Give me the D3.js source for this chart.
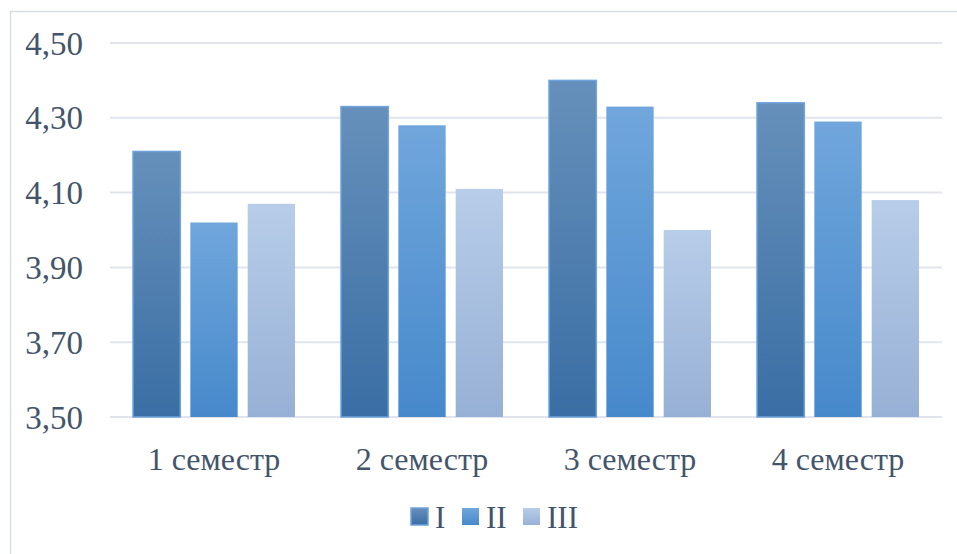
<!DOCTYPE html>
<html>
<head>
<meta charset="utf-8">
<script src="https://cdn.jsdelivr.net/npm/d3@7"></script>
<style>
  html, body { margin: 0; padding: 0; background: #fff; }
  svg { display: block; font-family: "Liberation Serif", serif; }
</style>
</head>
<body>
<div id="chart"></div>
<script>
// categories and series
const semesters = ["1 семестр", "2 семестр", "3 семестр", "4 семестр"];
const seriesNames = ["I", "II", "III"];
const valuesI = [4.21, 4.33, 4.40, 4.34];
const valuesII = [4.02, 4.28, 4.33, 4.29];
const valuesIII = [4.07, 4.11, 4.00, 4.08];
const yTicks = [3.5, 3.7, 3.9, 4.1, 4.3, 4.5];

const W = 957, H = 554;
const M = { left: 110, right: 15, top: 43, bottom: 137 };
const FONT = "Liberation Serif, serif";
const TEXT = "#44546a";

const series = [valuesI, valuesII, valuesIII];

// gradient stops per series (top -> bottom)
const grads = [
    ["#6690bb", "#3a6ea4"],
    ["#70a6dc", "#4689cb"],
    ["#b7cde9", "#97b0d5"],
];

const svg = d3.select("#chart").append("svg")
    .attr("width", W).attr("height", H)
    .style("font-family", FONT);

const defs = svg.append("defs");
grads.forEach((g, i) => {
    const lg = defs.append("linearGradient")
        .attr("id", "g" + i)
        .attr("x1", 0).attr("y1", 0).attr("x2", 0).attr("y2", 1);
    lg.append("stop").attr("offset", "0%").attr("stop-color", g[0]);
    lg.append("stop").attr("offset", "100%").attr("stop-color", g[1]);
});

// chart frame
svg.append("rect")
    .attr("x", 10.5).attr("y", 11.5)
    .attr("width", W + 10).attr("height", H + 10)
    .attr("fill", "none")
    .attr("stroke", "#d9dee5")
    .attr("stroke-width", 1.5);

const x = d3.scaleBand()
    .domain(semesters)
    .range([M.left, W - M.right]);

const inner = d3.scaleBand()
    .domain(seriesNames)
    .range([23, x.bandwidth() - 23])
    .paddingInner(0.175);

const y = d3.scaleLinear()
    .domain([3.5, 4.5])
    .range([H - M.bottom, M.top]);

// gridlines
svg.append("g")
    .selectAll("line")
    .data(yTicks)
    .join("line")
    .attr("x1", M.left).attr("x2", W - M.right)
    .attr("y1", d => y(d)).attr("y2", d => y(d))
    .attr("stroke", "#e1e5eb")
    .attr("stroke-width", 2);

// y labels
svg.append("g")
    .selectAll("text")
    .data(yTicks)
    .join("text")
    .attr("x", 83)
    .attr("y", d => y(d))
    .attr("dy", "0.35em")
    .attr("text-anchor", "end")
    .style("font-family", FONT)
    .style("font-size", "33px")
    .attr("fill", TEXT)
    .text(d => d3.format(".2f")(d).replace(".", ","));

// bars
const groups = svg.append("g")
    .selectAll("g")
    .data(semesters)
    .join("g")
    .attr("transform", d => `translate(${x(d)},0)`);

groups.selectAll("rect")
    .data((d, j) => seriesNames.map((s, i) => ({ s, i, v: series[i][j] })))
    .join("rect")
    .attr("x", d => inner(d.s))
    .attr("y", d => y(d.v))
    .attr("width", inner.bandwidth())
    .attr("height", d => y(3.5) - y(d.v))
    .attr("fill", d => `url(#g${d.i})`)
    .attr("stroke", d => d.i === 0 ? "#6ea3dd" : "none")
    .attr("stroke-width", 1.5);

// category labels
svg.append("g")
    .selectAll("text")
    .data(semesters)
    .join("text")
    .attr("x", d => x(d) + x.bandwidth() / 2)
    .attr("y", y(3.5) + 53)
    .attr("text-anchor", "middle")
    .style("font-family", FONT)
    .style("font-size", "32px")
    .attr("fill", TEXT)
    .text(d => d);

// legend
const legendX = [411, 462, 523];
const legend = svg.append("g")
    .selectAll("g")
    .data(seriesNames)
    .join("g")
    .attr("transform", (d, i) => `translate(${legendX[i]},508)`);

legend.append("rect")
    .attr("width", 17).attr("height", 17)
    .attr("fill", (d, i) => `url(#g${i})`)
    .attr("stroke", (d, i) => i === 0 ? "#6ea3dd" : "none")
    .attr("stroke-width", 1.5);

legend.append("text")
    .attr("x", 24)
    .attr("y", 9)
    .attr("dy", "0.35em")
    .style("font-family", FONT)
    .style("font-size", "31px")
    .attr("fill", TEXT)
    .text(d => d);
</script>
</body>
</html>
